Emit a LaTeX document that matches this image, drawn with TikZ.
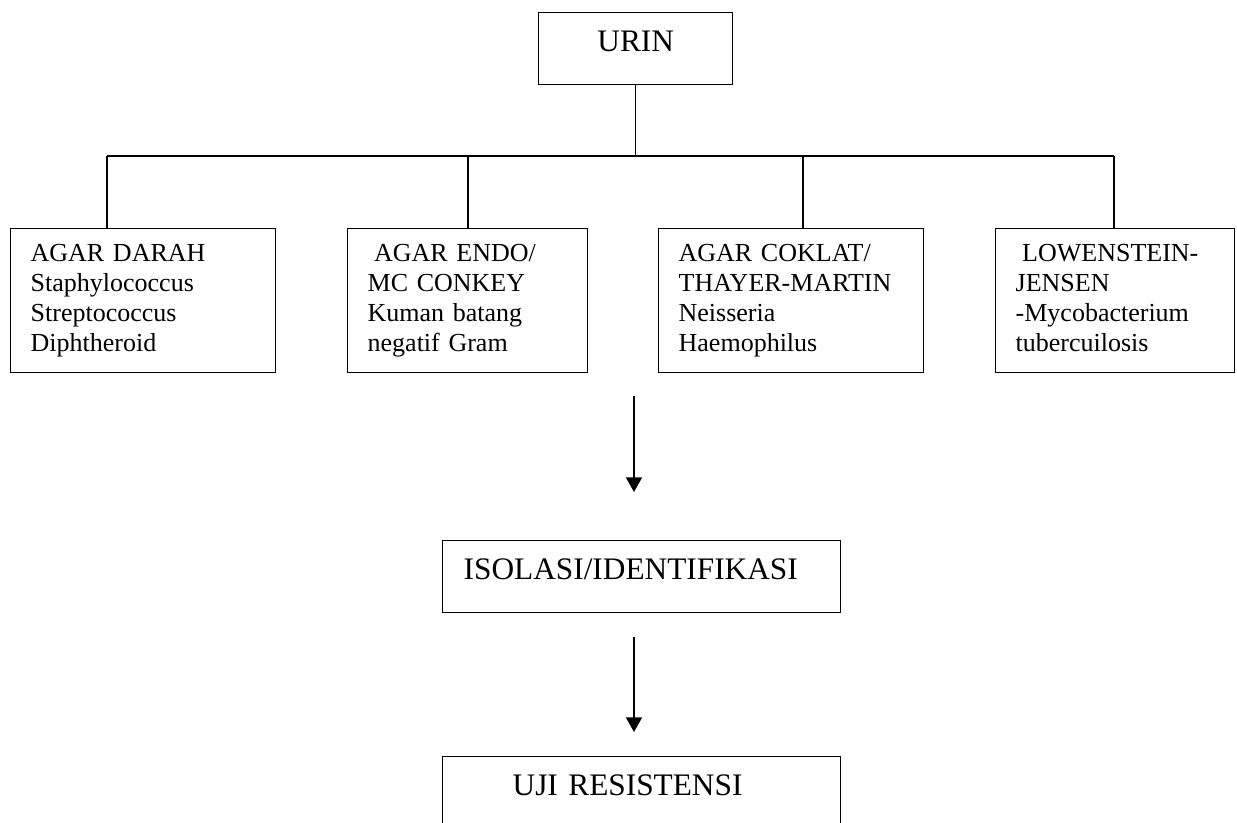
\documentclass[tikz,border=0pt]{standalone}
\usepackage{fontspec}
\setmainfont{Liberation Serif}
\usetikzlibrary{arrows.meta}

\begin{document}
\begin{tikzpicture}[
    x=0.75pt,
    y=-0.75pt,
    media/.style={draw, line width=1pt, anchor=north west, align=left,
        inner xsep=15pt, inner ysep=0pt, minimum height=108pt,
        font=\fontsize{19.5pt}{22.5pt}\selectfont,
        execute at begin node=\strut, execute at end node=\strut},
    stage/.style={draw, line width=1pt, anchor=north west,
        inner xsep=15.75pt, inner ysep=0pt, minimum height=54pt,
        text height=0.7em, text depth=0.3em,
        font=\fontsize{23.5pt}{28pt}\selectfont},
    link/.style={line width=1pt},
    flow/.style={line width=1.4pt, -{Triangle[width=12pt,length=11pt]}},
]

% Page frame, the last box runs off the bottom
\useasboundingbox (0,0) rectangle (1237,823);
\clip (0,0) rectangle (1237,823);

% Sample
\node[stage, minimum width=145.5pt] (urin) at (538,12) {URIN};

% Media
\node[media, text width=168.75pt] (darah) at (10,228)
    {AGAR DARAH\\Staphylococcus\\Streptococcus\\Diphtheroid};
\node[media, text width=150pt] (endo) at (347,228)
    {\hspace*{.25em}AGAR ENDO/\\MC CONKEY\\Kuman batang\\negatif Gram};
\node[media, text width=168.75pt] (coklat) at (658,228)
    {AGAR COKLAT/\\THAYER-MARTIN\\Neisseria\\Haemophilus};
\node[media, text width=149.25pt] (lowen) at (995,228)
    {\hspace*{.25em}LOWENSTEIN-\\JENSEN\\-Mycobacterium\\tubercuilosis};

% Later steps
\node[stage, text width=267pt, align=left] (isolasi) at (442,540)
    {ISOLASI/IDENTIFIKASI};
\node[stage, text width=267pt, align=left] (uji) at (442,756)
    {\hspace*{36.75pt}UJI RESISTENSI};

% Branch line
\coordinate (j1) at (107,156);
\coordinate (j2) at (468,156);
\coordinate (j3) at (803,156);
\coordinate (j4) at (1114,156);

\draw[link] (urin.south) -- (urin.south |- j1);
\draw[link] (j1) -- (j4);
\foreach \j/\b in {j1/darah, j2/endo, j3/coklat, j4/lowen}
    \draw[link] (\j) -- (\j |- \b.north);

% Arrows
\coordinate (a1) at (634,396);
\coordinate (a1e) at (634,492);
\coordinate (a2) at (634,637);
\coordinate (a2e) at (634,732);

\draw[flow] (a1) -- (a1e);
\draw[flow] (a2) -- (a2e);

\end{tikzpicture}
\end{document}
